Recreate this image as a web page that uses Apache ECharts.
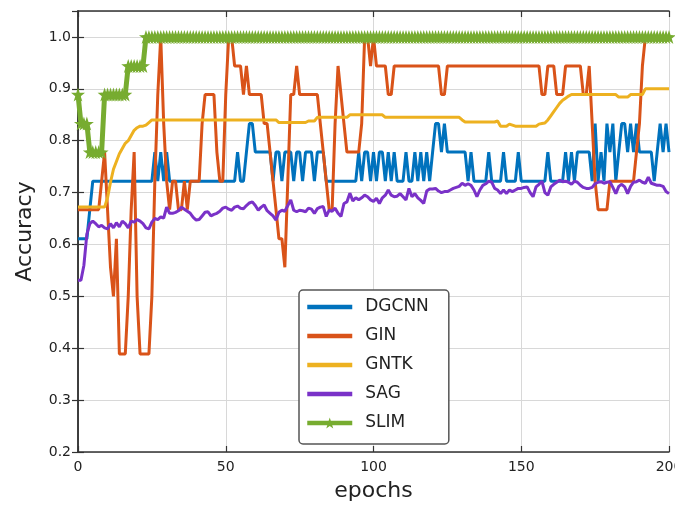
<!DOCTYPE html>
<html>
<head>
<meta charset="utf-8">
<script src="https://cdn.jsdelivr.net/npm/echarts@6/dist/echarts.min.js"></script>
<style>
  html, body { margin: 0; padding: 0; background: #fff; }
  #main { width: 675px; height: 506px; }
</style>
</head>
<body>
<div id="main"></div>
<script>
// accuracy per epoch (index = epoch, 0..200)
var dgcnn = [
  0.611,0.611,0.611,0.611,0.667,0.722,0.722,0.722,0.722,0.722,
  0.722,0.722,0.722,0.722,0.722,0.722,0.722,0.722,0.722,0.722,
  0.722,0.722,0.722,0.722,0.722,0.722,0.778,0.722,0.778,0.722,
  0.778,0.722,0.722,0.722,0.722,0.722,0.722,0.722,0.722,0.722,
  0.722,0.722,0.722,0.722,0.722,0.722,0.722,0.722,0.722,0.722,
  0.722,0.722,0.722,0.722,0.778,0.722,0.722,0.778,0.833,0.833,
  0.778,0.778,0.778,0.778,0.778,0.778,0.722,0.778,0.778,0.722,
  0.778,0.778,0.778,0.722,0.778,0.778,0.722,0.778,0.778,0.778,
  0.722,0.778,0.778,0.778,0.722,0.722,0.722,0.722,0.722,0.722,
  0.722,0.722,0.722,0.722,0.722,0.778,0.722,0.778,0.778,0.722,
  0.778,0.722,0.778,0.778,0.722,0.778,0.722,0.778,0.722,0.722,
  0.722,0.778,0.722,0.722,0.778,0.722,0.778,0.722,0.778,0.722,
  0.778,0.833,0.833,0.778,0.833,0.778,0.778,0.778,0.778,0.778,
  0.778,0.778,0.722,0.778,0.722,0.722,0.722,0.722,0.722,0.778,
  0.722,0.722,0.722,0.722,0.778,0.722,0.722,0.722,0.722,0.778,
  0.722,0.722,0.722,0.722,0.722,0.722,0.722,0.722,0.722,0.778,
  0.722,0.722,0.722,0.722,0.722,0.778,0.722,0.778,0.722,0.778,
  0.778,0.778,0.778,0.778,0.722,0.833,0.722,0.778,0.722,0.833,
  0.778,0.833,0.722,0.778,0.833,0.833,0.778,0.833,0.778,0.833,
  0.778,0.778,0.778,0.778,0.778,0.722,0.778,0.833,0.778,0.833,
  0.778
];
var gin = [
  0.667,0.667,0.667,0.667,0.667,0.667,0.667,0.667,0.722,0.778,
  0.667,0.556,0.5,0.611,0.389,0.389,0.389,0.5,0.667,0.778,
  0.5,0.389,0.389,0.389,0.389,0.5,0.722,0.889,1.0,0.833,
  0.722,0.667,0.722,0.722,0.667,0.667,0.722,0.667,0.722,0.722,
  0.722,0.722,0.833,0.889,0.889,0.889,0.889,0.778,0.722,0.722,
  0.889,1.0,1.0,0.944,0.944,0.944,0.889,0.944,0.889,0.889,
  0.889,0.889,0.889,0.833,0.833,0.778,0.722,0.667,0.611,0.611,
  0.556,0.722,0.889,0.889,0.944,0.889,0.889,0.889,0.889,0.889,
  0.889,0.889,0.833,0.778,0.722,0.667,0.667,0.833,0.944,0.889,
  0.833,0.778,0.778,0.778,0.778,0.778,0.833,1.0,1.0,0.944,
  1.0,0.944,0.944,0.944,0.944,0.889,0.889,0.944,0.944,0.944,
  0.944,0.944,0.944,0.944,0.944,0.944,0.944,0.944,0.944,0.944,
  0.944,0.944,0.944,0.889,0.889,0.944,0.944,0.944,0.944,0.944,
  0.944,0.944,0.944,0.944,0.944,0.944,0.944,0.944,0.944,0.944,
  0.944,0.944,0.944,0.944,0.944,0.944,0.944,0.944,0.944,0.944,
  0.944,0.944,0.944,0.944,0.944,0.944,0.944,0.889,0.889,0.944,
  0.944,0.944,0.889,0.889,0.889,0.944,0.944,0.944,0.944,0.944,
  0.944,0.889,0.889,0.944,0.833,0.722,0.667,0.667,0.667,0.667,
  0.722,0.722,0.722,0.722,0.722,0.722,0.722,0.722,0.722,0.778,
  0.833,0.944,1.0,1.0,1.0,1.0,1.0,1.0,1.0,1.0,
  1.0
];
var gntk = [
  0.672,0.672,0.672,0.672,0.672,0.672,0.672,0.672,0.672,0.672,
  0.69,0.72,0.745,0.76,0.775,0.785,0.795,0.80,0.81,0.82,
  0.825,0.828,0.828,0.83,0.835,0.84,0.84,0.84,0.84,0.84,
  0.84,0.84,0.84,0.84,0.84,0.84,0.84,0.84,0.84,0.84,
  0.84,0.84,0.84,0.84,0.84,0.84,0.84,0.84,0.84,0.84,
  0.84,0.84,0.84,0.84,0.84,0.84,0.84,0.84,0.84,0.84,
  0.84,0.84,0.84,0.84,0.84,0.84,0.84,0.84,0.835,0.835,
  0.835,0.835,0.835,0.835,0.835,0.835,0.835,0.835,0.838,0.838,
  0.838,0.845,0.845,0.845,0.845,0.845,0.845,0.845,0.845,0.845,
  0.845,0.845,0.85,0.85,0.85,0.85,0.85,0.85,0.85,0.85,
  0.85,0.85,0.85,0.85,0.845,0.845,0.845,0.845,0.845,0.845,
  0.845,0.845,0.845,0.845,0.845,0.845,0.845,0.845,0.845,0.845,
  0.845,0.845,0.845,0.845,0.845,0.845,0.845,0.845,0.845,0.845,
  0.84,0.836,0.836,0.836,0.836,0.836,0.836,0.836,0.836,0.836,
  0.836,0.836,0.838,0.828,0.828,0.828,0.832,0.83,0.828,0.828,
  0.828,0.828,0.828,0.828,0.828,0.828,0.832,0.833,0.834,0.84,
  0.848,0.856,0.864,0.872,0.878,0.882,0.886,0.889,0.889,0.889,
  0.889,0.889,0.889,0.889,0.889,0.889,0.889,0.889,0.889,0.889,
  0.889,0.889,0.889,0.884,0.884,0.884,0.884,0.889,0.889,0.889,
  0.889,0.889,0.9,0.9,0.9,0.9,0.9,0.9,0.9,0.9,
  0.9
];
var sag = [
  0.531,0.531,0.56,0.62,0.64,0.645,0.64,0.634,0.637,0.632,
  0.63,0.64,0.632,0.642,0.634,0.645,0.64,0.632,0.645,0.643,
  0.648,0.645,0.64,0.632,0.63,0.643,0.65,0.648,0.653,0.651,
  0.672,0.66,0.66,0.662,0.665,0.672,0.668,0.664,0.66,0.652,
  0.647,0.648,0.655,0.662,0.663,0.655,0.658,0.66,0.664,0.67,
  0.672,0.668,0.666,0.672,0.674,0.67,0.669,0.675,0.68,0.682,
  0.675,0.666,0.672,0.676,0.665,0.66,0.655,0.647,0.662,0.666,
  0.664,0.675,0.686,0.666,0.663,0.666,0.665,0.663,0.67,0.668,
  0.66,0.669,0.672,0.673,0.654,0.666,0.664,0.67,0.66,0.654,
  0.679,0.682,0.699,0.684,0.69,0.686,0.69,0.695,0.692,0.686,
  0.683,0.689,0.679,0.69,0.695,0.705,0.695,0.692,0.693,0.698,
  0.692,0.686,0.708,0.692,0.698,0.69,0.685,0.679,0.703,0.707,
  0.707,0.708,0.703,0.7,0.702,0.702,0.705,0.708,0.71,0.712,
  0.718,0.714,0.717,0.714,0.705,0.692,0.705,0.714,0.717,0.722,
  0.72,0.708,0.705,0.698,0.705,0.698,0.705,0.702,0.705,0.708,
  0.708,0.71,0.711,0.7,0.692,0.711,0.716,0.722,0.7,0.695,
  0.711,0.716,0.72,0.724,0.721,0.722,0.72,0.716,0.722,0.72,
  0.714,0.71,0.708,0.708,0.71,0.717,0.72,0.721,0.718,0.72,
  0.721,0.71,0.698,0.712,0.716,0.711,0.698,0.712,0.72,0.721,
  0.724,0.72,0.718,0.73,0.718,0.716,0.714,0.714,0.712,0.702,
  0.698
];
var slim = [
  0.889,0.833,0.833,0.833,0.778,0.778,0.778,0.778,0.778,0.889,
  0.889,0.889,0.889,0.889,0.889,0.889,0.889,0.944,0.944,0.944,
  0.944,0.944,0.944,1,1,1,1,1,1,1,
  1,1,1,1,1,1,1,1,1,1,
  1,1,1,1,1,1,1,1,1,1,
  1,1,1,1,1,1,1,1,1,1,
  1,1,1,1,1,1,1,1,1,1,
  1,1,1,1,1,1,1,1,1,1,
  1,1,1,1,1,1,1,1,1,1,
  1,1,1,1,1,1,1,1,1,1,
  1,1,1,1,1,1,1,1,1,1,
  1,1,1,1,1,1,1,1,1,1,
  1,1,1,1,1,1,1,1,1,1,
  1,1,1,1,1,1,1,1,1,1,
  1,1,1,1,1,1,1,1,1,1,
  1,1,1,1,1,1,1,1,1,1,
  1,1,1,1,1,1,1,1,1,1,
  1,1,1,1,1,1,1,1,1,1,
  1,1,1,1,1,1,1,1,1,1,
  1,1,1,1,1,1,1,1,1,1,
  1
];
var names = ['DGCNN', 'GIN', 'GNTK', 'SAG', 'SLIM'];
var colors = ['#0072bd', '#d95319', '#edb120', '#7a32c8', '#77ac30'];

var starPath = 'path://M50,0 L61.8,35.3 L98.9,35.3 L69,57.1 L80.4,92.7 L50,70.7 L19.6,92.7 L31,57.1 L1.1,35.3 L38.2,35.3 Z';
var barIcon = 'path://M0,0 L100,0 L100,10 L0,10 Z';
var font = 'DejaVu Sans';

function pairs(arr) {
  return arr.map(function (v, i) { return [i, v]; });
}

var chart = echarts.init(document.getElementById('main'));

var all = [dgcnn, gin, gntk, sag, slim];
var series = all.map(function (arr, k) {
  var s = {
    name: names[k],
    type: 'line',
    data: pairs(arr),
    symbol: 'none',
    lineStyle: { width: 3, color: colors[k] },
    itemStyle: { color: colors[k] },
    emphasis: { disabled: true },
    z: 2 + k
  };
  if (k === 4) {
    s.symbol = starPath;
    s.symbolSize = 14;
    s.showSymbol = true;
    s.lineStyle.width = 5;
  }
  return s;
});

var legendData = names.map(function (n, k) {
  return k === 4 ? { name: n } : { name: n, icon: barIcon };
});

var axisLineStyle = { show: true, lineStyle: { color: '#333', width: 1.5 } };
var tickStyle = { show: true, inside: true, length: 6, lineStyle: { color: '#333', width: 1.2 } };

chart.setOption({
  animation: false,
  backgroundColor: '#fff',
  grid: { left: 78, right: 6, top: 11, bottom: 54, containLabel: false, outerBoundsMode: 'none' },
  legend: {
    data: legendData,
    orient: 'vertical',
    left: 299,
    top: 290,
    itemWidth: 45,
    itemHeight: 14,
    itemGap: 9,
    padding: [7, 20, 11, 6],
    backgroundColor: '#fff',
    borderColor: '#555',
    borderWidth: 1.5,
    borderRadius: 4,
    lineStyle: { width: 4.5 },
    textStyle: { fontFamily: font, fontSize: 17, color: '#222', lineHeight: 20, padding: [0, 0, 0, 8] }
  },
  xAxis: [{
    type: 'value',
    min: 0, max: 200, interval: 50,
    name: 'epochs',
    nameLocation: 'middle',
    nameGap: 28,
    nameTextStyle: { fontFamily: font, fontSize: 22, color: '#222' },
    axisLine: axisLineStyle,
    axisTick: tickStyle,
    axisLabel: { fontFamily: font, fontSize: 14, color: '#222', margin: 8 },
    splitLine: { show: true, lineStyle: { color: '#d8d8d8', width: 1 } }
  }, {
    type: 'value',
    position: 'top',
    min: 0, max: 200, interval: 50,
    axisLine: axisLineStyle,
    axisTick: tickStyle,
    axisLabel: { show: false },
    splitLine: { show: false }
  }],
  yAxis: [{
    type: 'value',
    min: 0.2, max: 1.05, interval: 0.1,
    name: 'Accuracy',
    nameLocation: 'middle',
    nameGap: 42,
    nameTextStyle: { fontFamily: font, fontSize: 22, color: '#222' },
    axisLine: axisLineStyle,
    axisTick: tickStyle,
    axisLabel: {
      fontFamily: font, fontSize: 14, color: '#222', margin: 7,
      showMaxLabel: false,
      formatter: function (v) { return v.toFixed(1); }
    },
    splitLine: { show: true, lineStyle: { color: '#d8d8d8', width: 1 } }
  }, {
    type: 'value',
    position: 'right',
    min: 0.2, max: 1.05, interval: 0.1,
    axisLine: axisLineStyle,
    axisTick: tickStyle,
    axisLabel: { show: false },
    splitLine: { show: false }
  }],
  series: series
});
</script>
</body>
</html>
